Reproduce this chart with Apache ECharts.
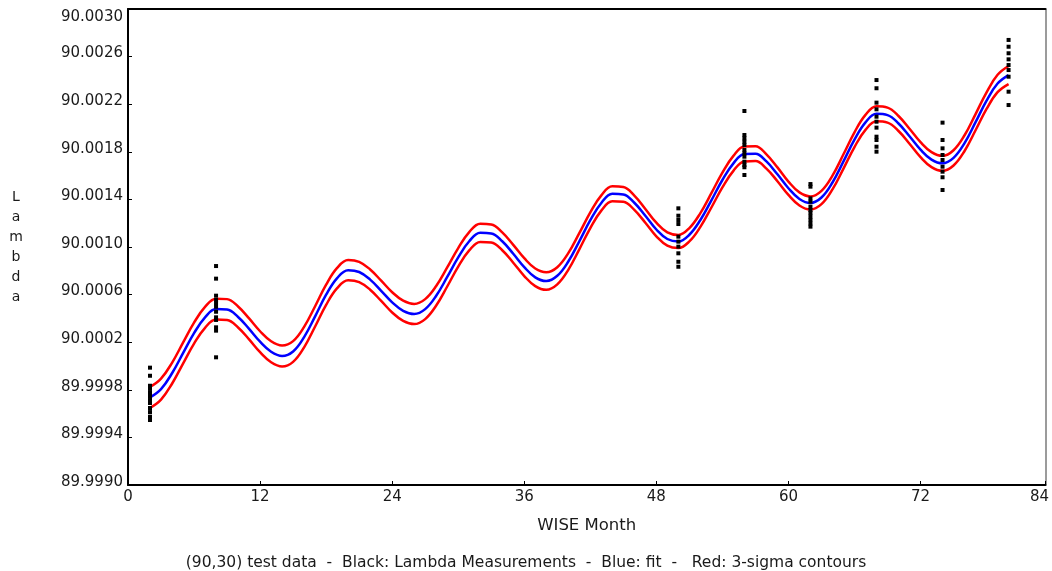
<!DOCTYPE html>
<html>
<head>
<meta charset="utf-8">
<script src="https://cdn.jsdelivr.net/npm/echarts@6/dist/echarts.min.js"></script>
<style>
html,body{margin:0;padding:0;background:#fff;}
#chart{width:1052px;height:571px;}
</style>
</head>
<body>
<div id="chart"></div>
<script>
// ---- data ----
const fitMonths = [2,3,4,5,6,7,8,9,10,11,12,13,14,15,16,17,18,19,20,21,22,23,24,25,26,27,28,29,30,31,32,33,34,35,36,37,38,39,40,41,42,43,44,45,46,47,48,49,50,51,52,53,54,55,56,57,58,59,60,61,62,63,64,65,66,67,68,69,70,71,72,73,74,75,76,77,78,79,80];

const fitLambda = [89.999736,89.999806,89.999939,90.000108,90.000276,90.000409,90.000478,90.000474,90.000412,90.000312,90.000204,90.000120,90.000084,90.000122,90.000243,90.000417,90.000599,90.000739,90.000805,90.000790,90.000726,90.000632,90.000535,90.000464,90.000437,90.000478,90.000590,90.000748,90.000913,90.001048,90.001119,90.001114,90.001048,90.000943,90.000831,90.000745,90.000714,90.000758,90.000878,90.001048,90.001225,90.001370,90.001447,90.001442,90.001372,90.001262,90.001147,90.001067,90.001046,90.001103,90.001227,90.001392,90.001563,90.001703,90.001782,90.001784,90.001719,90.001611,90.001494,90.001404,90.001370,90.001416,90.001542,90.001719,90.001902,90.002047,90.002119,90.002108,90.002038,90.001931,90.001818,90.001734,90.001703,90.001749,90.001873,90.002049,90.002230,90.002374,90.002445];

const upperLambda = [89.999824,89.999894,90.000027,90.000196,90.000364,90.000497,90.000566,90.000562,90.000500,90.000400,90.000292,90.000208,90.000172,90.000209,90.000329,90.000502,90.000684,90.000824,90.000890,90.000875,90.000811,90.000717,90.000620,90.000549,90.000522,90.000562,90.000672,90.000828,90.000991,90.001125,90.001195,90.001190,90.001123,90.001018,90.000906,90.000819,90.000788,90.000830,90.000948,90.001116,90.001291,90.001434,90.001510,90.001504,90.001432,90.001320,90.001204,90.001123,90.001101,90.001159,90.001285,90.001452,90.001625,90.001766,90.001845,90.001846,90.001779,90.001669,90.001550,90.001459,90.001425,90.001472,90.001600,90.001779,90.001964,90.002110,90.002182,90.002171,90.002101,90.001994,90.001881,90.001797,90.001766,90.001813,90.001939,90.002117,90.002300,90.002447,90.002521];

const lowerLambda = [89.999648,89.999718,89.999851,90.000020,90.000188,90.000321,90.000390,90.000386,90.000324,90.000224,90.000116,90.000032,89.999996,90.000035,90.000157,90.000332,90.000514,90.000654,90.000720,90.000705,90.000641,90.000547,90.000450,90.000379,90.000352,90.000394,90.000508,90.000668,90.000835,90.000971,90.001043,90.001038,90.000973,90.000868,90.000756,90.000671,90.000640,90.000686,90.000808,90.000980,90.001159,90.001306,90.001384,90.001380,90.001312,90.001204,90.001090,90.001011,90.000991,90.001047,90.001169,90.001332,90.001501,90.001640,90.001719,90.001722,90.001659,90.001553,90.001438,90.001349,90.001315,90.001360,90.001484,90.001659,90.001840,90.001984,90.002056,90.002045,90.001975,90.001868,90.001755,90.001671,90.001640,90.001685,90.001807,90.001981,90.002160,90.002301,90.002369];

const measMonths = [2, 8, 50, 56, 62, 68, 74, 80];
const measLambda = [
  [89.999986,89.999918,89.999834,89.999807,89.999773,89.999742,89.999714,89.999689,89.999647,89.999613,89.999574,89.999546],
  [90.000840,90.000734,90.000591,90.000555,90.000527,90.000498,90.000456,90.000409,90.000387,90.000325,90.000297,90.000073],
  [90.001325,90.001263,90.001227,90.001193,90.001087,90.001045,90.001003,90.000947,90.000876,90.000834],
  [90.002143,90.001941,90.001913,90.001885,90.001857,90.001815,90.001787,90.001759,90.001717,90.001689,90.001670,90.001605],
  [90.001529,90.001507,90.001409,90.001381,90.001339,90.001311,90.001286,90.001256,90.001227,90.001197,90.001171],
  [90.002403,90.002334,90.002213,90.002157,90.002095,90.002053,90.002003,90.001927,90.001899,90.001843,90.001801],
  [90.002045,90.001899,90.001829,90.001773,90.001731,90.001675,90.001633,90.001586,90.001479],
  [90.002740,90.002683,90.002628,90.002577,90.002529,90.002487,90.002431,90.002305,90.002193]
];

const xTickLabels = ['0','12','24','36','48','60','72','84'];
const yTickLabels = ['89.9990','89.9994','89.9998','90.0002','90.0006','90.0010','90.0014','90.0018','90.0022','90.0026','90.0030'];
const xAxisTitle = 'WISE Month';
const yAxisTitle = 'Lambda';
const caption = '(90,30) test data  -  Black: Lambda Measurements  -  Blue: fit  -   Red: 3-sigma contours';

// ---- plotting ----
// y is plotted as offset from the axis base in units of 1e-4 so ticks land on round numbers
const Y_BASE = 89.9990;
const toY = v => (v - Y_BASE) * 10000;
const pairs = (xs, ys) => xs.map((x, i) => [x, toY(ys[i])]);

const measData = [];
measMonths.forEach((m, i) => measLambda[i].forEach(v => measData.push([m, toY(v)])));

const FONT = 'DejaVu Sans';
const TXT = '#1a1a1a';
const chart = echarts.init(document.getElementById('chart'), null, {renderer: 'canvas'});
chart.setOption({
  animation: false,
  backgroundColor: '#ffffff',
  title: {
    text: caption,
    left: 'center',
    top: 550,
    textStyle: {fontFamily: FONT, fontSize: 15.5, fontWeight: 'normal', color: TXT}
  },
  grid: {left: 128, right: 4, top: 9, bottom: 86, containLabel: false},
  xAxis: [{
    type: 'value', min: 0, max: 83.35, interval: 12,
    name: xAxisTitle, nameLocation: 'middle', nameGap: 32,
    nameTextStyle: {fontFamily: FONT, fontSize: 16.5, color: TXT},
    axisLine: {show: true, onZero: false, lineStyle: {color: '#000', width: 2}},
    axisTick: {show: true, inside: true, length: 4, lineStyle: {color: '#000', width: 1}},
    splitLine: {show: false},
    axisLabel: {
      margin: 5, fontFamily: FONT, fontSize: 15, color: TXT,
      formatter: (v, i) => i === xTickLabels.length - 1 ? '{e|' + xTickLabels[i] + '}' : xTickLabels[i],
      rich: {e: {fontFamily: FONT, fontSize: 15, color: TXT, padding: [0, 12, 0, 0]}}
    }
  }, {
    type: 'value', min: 0, max: 83.35, position: 'top',
    axisLine: {show: true, onZero: false, lineStyle: {color: '#000', width: 2}},
    axisTick: {show: false}, axisLabel: {show: false}, splitLine: {show: false}
  }],
  yAxis: [{
    type: 'value', min: 0, max: 40, interval: 4,
    name: yAxisTitle.split('').join('\n'), nameLocation: 'middle', nameRotate: 0, nameGap: 112,
    nameTextStyle: {fontFamily: FONT, fontSize: 14, color: TXT, lineHeight: 20, align: 'center'},
    axisLine: {show: true, onZero: false, lineStyle: {color: '#000', width: 2}},
    axisTick: {show: true, inside: true, length: 4, lineStyle: {color: '#000', width: 1}},
    splitLine: {show: false},
    axisLabel: {
      margin: 5, fontFamily: FONT, fontSize: 15, color: TXT,
      formatter: (v, i) => (i === yTickLabels.length - 1 ? '{t|' : '{n|') + yTickLabels[i] + '}',
      rich: {
        t: {fontFamily: FONT, fontSize: 15, color: TXT, padding: [16, 0, 0, 0]},
        n: {fontFamily: FONT, fontSize: 15, color: TXT, padding: [0, 0, 6, 0]}
      }
    }
  }, {
    type: 'value', min: 0, max: 40, position: 'right',
    axisLine: {show: true, onZero: false, lineStyle: {color: '#7a7a7a', width: 1.5}},
    axisTick: {show: false}, axisLabel: {show: false}, splitLine: {show: false}
  }],
  series: [
    {type: 'line', name: 'upper', data: pairs(fitMonths, upperLambda), showSymbol: false, symbol: 'none', smooth: 0.4,
     lineStyle: {color: '#ff0000', width: 2.5}, z: 2},
    {type: 'line', name: 'lower', data: pairs(fitMonths, lowerLambda), showSymbol: false, symbol: 'none', smooth: 0.4,
     lineStyle: {color: '#ff0000', width: 2.5}, z: 2},
    {type: 'line', name: 'fit', data: pairs(fitMonths, fitLambda), showSymbol: false, symbol: 'none', smooth: 0.4,
     lineStyle: {color: '#0000ff', width: 2.5}, z: 3},
    {type: 'scatter', name: 'measurements', data: measData, symbol: 'rect', symbolSize: [4, 4],
     itemStyle: {color: '#000000', opacity: 1}, z: 4}
  ]
});
</script>
</body>
</html>
